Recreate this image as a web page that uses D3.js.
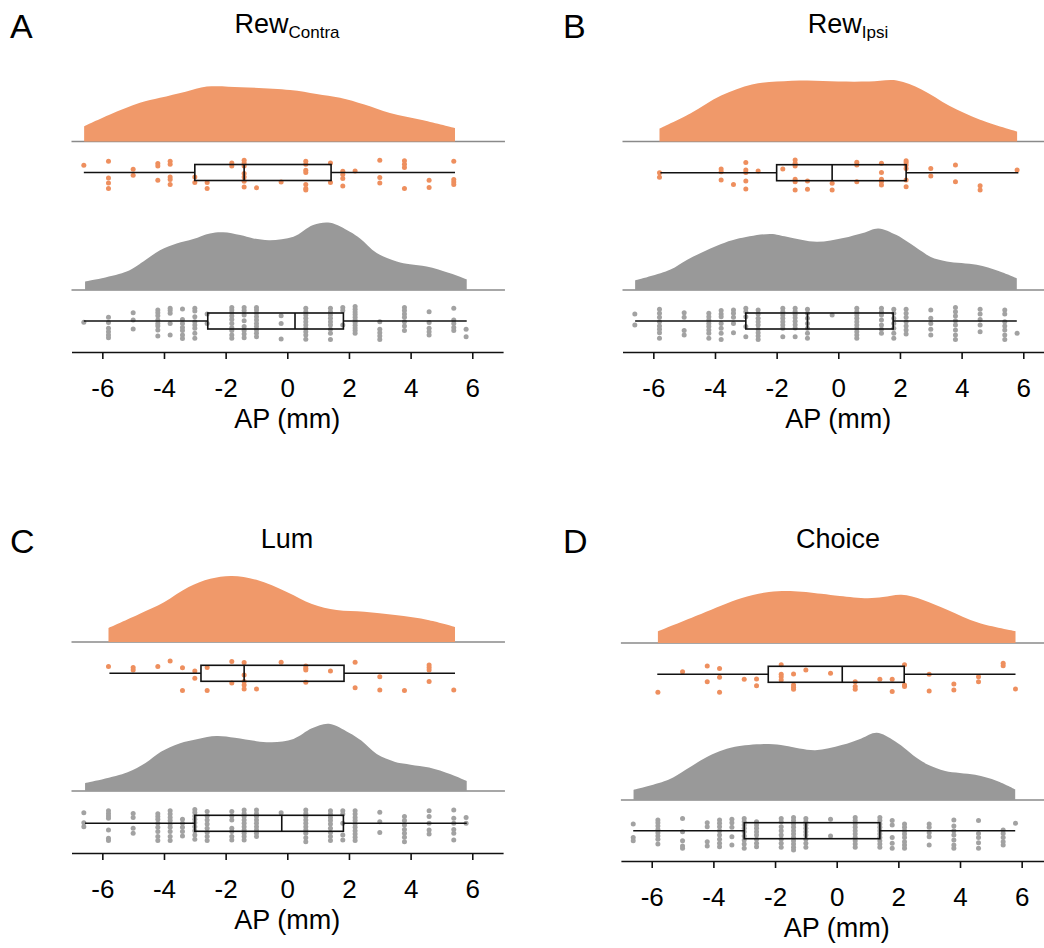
<!DOCTYPE html>
<html>
<head>
<meta charset="utf-8">
<script src="https://cdn.jsdelivr.net/npm/d3@7/dist/d3.min.js"></script>
<style>
  body { margin: 0; background: #fff; }
  text { font-family: Helvetica, "Liberation Sans", Arial, sans-serif; fill: #000; }
</style>
</head>
<body>
<svg id="chart" width="1044" height="948"></svg>
<script>
// tick values on AP axis
var apTicks = [-6, -4, -2, 0, 2, 4, 6];

// density curves [AP mm, density]
var contraDens = [[-6.59,0.027],[-5.75,0.048],[-4.78,0.069],[-4.13,0.078],[-3.3,0.089],[-2.61,0.098],[-1.5,0.097],[0.09,0.092],[0.95,0.085],[1.71,0.078],[2.5,0.066],[3.33,0.051],[4.41,0.038],[5.44,0.024]];
var contraAllDens = [[-6.56,0.015],[-5.21,0.033],[-4.67,0.051],[-4.13,0.071],[-3.59,0.083],[-3.05,0.091],[-2.51,0.101],[-2.08,0.103],[-1.53,0.098],[-1.1,0.092],[-0.56,0.089],[0.2,0.095],[0.84,0.116],[1.39,0.12],[2.03,0.104],[2.36,0.092],[2.9,0.066],[3.55,0.051],[3.98,0.046],[4.52,0.042],[5.28,0.03],[5.82,0.019]];
var ipsiDens = [[-5.8,0.023],[-4.8,0.05],[-3.8,0.082],[-2.8,0.102],[-2.0,0.107],[-1.0,0.109],[0,0.107],[1.0,0.107],[1.9,0.109],[2.7,0.093],[3.6,0.064],[4.6,0.039],[5.8,0.018]];
var ipsiAllDens = [[-6.59,0.017],[-5.46,0.036],[-4.9,0.054],[-4.27,0.071],[-3.8,0.082],[-3.3,0.091],[-2.2,0.1],[-1.67,0.095],[-0.7,0.086],[0.16,0.093],[0.8,0.102],[1.3,0.11],[1.89,0.098],[2.65,0.071],[3.0,0.059],[3.52,0.051],[4.49,0.045],[5.2,0.034],[5.79,0.021]];
var lumDens = [[-5.8,0.025],[-4.8,0.05],[-4.0,0.071],[-3.2,0.098],[-2.5,0.113],[-1.8,0.118],[-1.0,0.111],[0,0.089],[0.8,0.068],[1.6,0.057],[2.5,0.054],[3.5,0.048],[4.6,0.039],[5.44,0.027]];
var lumAllDens = [[-6.56,0.014],[-5.2,0.033],[-4.6,0.05],[-4.1,0.07],[-3.5,0.085],[-2.9,0.093],[-2.3,0.098],[-1.7,0.095],[-1.0,0.089],[-0.5,0.087],[0.2,0.093],[0.8,0.112],[1.35,0.12],[2.0,0.104],[2.4,0.09],[2.9,0.066],[3.5,0.052],[4.0,0.047],[4.6,0.042],[5.3,0.03],[5.82,0.018]];
var choiceDens = [[-5.8,0.021],[-4.4,0.052],[-3.1,0.08],[-2.2,0.091],[-1.5,0.093],[-0.5,0.088],[0.1,0.084],[1.0,0.08],[1.5,0.082],[2.1,0.086],[2.8,0.077],[3.6,0.059],[4.6,0.036],[5.8,0.021]];
var choiceAllDens = [[-6.59,0.018],[-5.46,0.036],[-4.9,0.054],[-4.27,0.075],[-3.8,0.087],[-3.3,0.095],[-2.2,0.1],[-1.67,0.097],[-0.7,0.089],[0.16,0.098],[0.8,0.11],[1.3,0.12],[1.89,0.105],[2.65,0.073],[3.0,0.062],[3.52,0.052],[4.49,0.045],[5.2,0.034],[5.79,0.019]];

// box stats [whisker lo, q1, median, q3, whisker hi] (mm)
var contraBox = [-6.6, -3.0, -1.4, 1.42, 5.44];
var contraAllBox = [-6.6, -2.58, 0.25, 1.82, 5.82];
var ipsiBox = [-5.77, -2.0, -0.2, 2.2, 5.84];
var ipsiAllBox = [-6.59, -3.0, -1.0, 1.78, 5.79];
var lumBox = [-5.77, -2.8, -1.4, 1.84, 5.44];
var lumAllBox = [-6.56, -3.0, -0.18, 1.82, 5.82];
var choiceBox = [-5.82, -2.22, 0.18, 2.19, 5.8];
var choiceAllBox = [-6.6, -3.0, -1.0, 1.4, 5.79];

// sites: [AP mm, [jitter values]]
var contraPts = [[-6.6,[-0.46]],[-5.8,[-0.71,0.34,0.65,1.0]],[-5.0,[-0.21,0.17]],[-4.2,[-0.56,-0.41,0.48]],[-3.8,[-0.71,-0.52,0.28,0.44,0.75]],[-3.0,[0.28,0.63]],[-2.6,[0.63,1.0]],[-1.8,[-0.6,-0.41]],[-1.4,[-0.77,-0.6,-0.41,0.06,0.28,0.54,0.9]],[-1.0,[0.96]],[-0.2,[0.59]],[0.6,[-0.71,-0.52,-0.14,0.0,0.75,1.0,1.1]],[1.4,[-0.6,0.63]],[1.8,[-0.08,0.13,0.38,0.84]],[2.2,[-0.1]],[3.0,[-0.77,0.31,0.65]],[3.8,[-0.73,-0.52,-0.31,1.0]],[4.6,[0.48,0.94]],[5.4,[-0.71,0.44,0.59,0.75]]];
var contraAllPts = [[-6.6,[0.08]],[-5.8,[-0.23,0.1,0.46,0.67,0.88,1.04]],[-5.0,[-0.52,-0.06,0.5]],[-4.2,[-0.69,-0.52,-0.33,-0.06,0.15,0.31,0.56,0.94]],[-3.8,[-0.79,-0.65,-0.48,0.15,0.88]],[-3.4,[-0.75,-0.1,0.15,0.4,0.6,0.88,1.1]],[-3.0,[-0.79,-0.63,-0.27,0.04,0.25,0.46,0.77,1.08]],[-2.6,[-0.44,0.15]],[-1.8,[-0.85,-0.69,-0.52,-0.31,-0.1,0.15,0.42,0.6,0.88,1.08]],[-1.4,[-0.85,-0.65,-0.38,-0.02,0.35,0.6,0.81,1.04]],[-1.0,[-0.85,-0.69,-0.48,-0.27,-0.06,0.15,0.35,0.56,0.77,0.98]],[-0.2,[-0.33,0.15,1.13]],[0.6,[-0.79,-0.58,-0.38,-0.17,0.04,0.25,0.46,0.67,0.88,1.14]],[1.4,[-0.79,-0.58,-0.38,-0.17,0.04,0.25,0.52,0.77,1.15]],[1.8,[-0.85,-0.65,0.25]],[2.2,[-0.9,-0.73,-0.56,-0.4,-0.23,-0.06,0.1,0.27,0.44,0.6,0.77]],[3.0,[0.04,0.52,0.73,0.94,1.15]],[3.8,[-0.85,-0.65,-0.44,-0.23,0.04,0.31,0.6]],[4.6,[-0.58,0.1,0.46,0.67,0.88]],[5.4,[-0.79,-0.06,0.15,0.4,0.6]],[5.8,[0.52,0.98]]];
var ipsiPts = [[-5.8,[0.0,0.29]],[-3.8,[-0.23,-0.06,0.46]],[-3.4,[0.73]],[-3.0,[-0.63,-0.17,-0.02,0.52,1.02]],[-2.6,[-0.1]],[-1.8,[-0.23]],[-1.4,[-0.79,-0.59,-0.42,0.41,0.56,1.08]],[-1.0,[0.52,1.04]],[-0.2,[0.66,1.08]],[0.6,[-0.65,-0.48,0.56]],[1.4,[-0.59,-0.02,0.41,0.56,0.77]],[2.2,[-0.75,-0.63,-0.48,-0.27,0.46,0.88]],[3.0,[-0.27,0.21]],[3.8,[-0.48,0.56]],[4.6,[0.81,1.08]],[5.8,[-0.17]]];
var ipsiAllPts = [[-6.6,[-0.44,0.25]],[-5.8,[-0.73,-0.48,-0.23,0.04,0.31,0.52,0.73,1.08]],[-5.0,[-0.52,-0.23,0.6,0.88]],[-4.2,[-0.48,-0.27,-0.06,0.15,0.35,0.56,0.77,1.08]],[-3.8,[-0.65,-0.44,-0.27,0.15,0.46,0.77,1.15]],[-3.4,[-0.69,-0.48,-0.23,0.15,0.73]],[-3.0,[-0.79,-0.58,-0.27,0.35,0.98]],[-2.6,[-0.69,-0.44,-0.17,0.04,0.25,0.52,0.73,0.94,1.15]],[-1.8,[-0.79,-0.58,-0.38,-0.17,0.04,0.25,0.46,0.98]],[-1.4,[-0.79,-0.6,-0.4,-0.2,0.02,0.23,0.44,0.98]],[-1.0,[-0.73,-0.48,-0.17,0.15,0.46,0.77,1.08]],[-0.2,[-0.38]],[0.6,[-0.79,-0.58,-0.38,-0.17,0.04,0.25,0.46,0.67,0.88,1.08]],[1.4,[-0.79,-0.58,-0.38,-0.06,0.25,0.52,0.77]],[1.8,[-0.73,-0.48,-0.17,0.15,0.46,0.77,1.08]],[2.2,[-0.73,-0.48,-0.23,0.04,0.31,0.56,0.81]],[3.0,[-0.69,-0.17,0.15,0.52,0.88]],[3.8,[-0.85,-0.58,-0.31,-0.02,0.25,0.56,0.88,1.15]],[4.6,[-0.73,-0.44,-0.1,0.25,0.67]],[5.4,[-0.69,-0.44,0.04,0.31,0.56,0.88,1.15]],[5.8,[0.77]]];
var lumPts = [[-5.8,[-0.42]],[-5.0,[-0.37,-0.21]],[-4.2,[-0.42]],[-3.8,[-0.77]],[-3.4,[-0.35,1.08]],[-3.0,[-0.15,0.31]],[-2.6,[-0.37,1.08]],[-1.8,[-0.73,0.6]],[-1.4,[-0.67,0.1,0.52,0.73,0.98]],[-1.0,[0.98]],[-0.2,[-0.69]],[0.6,[-0.46,-0.31,-0.21,0.56]],[1.4,[-0.15]],[2.2,[-0.69,0.9]],[3.0,[0.21,1.04]],[3.8,[1.08]],[4.6,[-0.52,-0.37,-0.21,0.52]],[5.4,[1.04]]];
var lumAllPts = [[-6.6,[-0.66,-0.04,0.21]],[-5.8,[-0.79,-0.62,-0.46,-0.31,0.42,0.94,1.08]],[-5.0,[-0.62,-0.37,0.31,0.62]],[-4.2,[-0.6,-0.42,-0.25,0,0.25,0.52,0.83,1.08]],[-3.8,[-0.79,-0.58,-0.37,-0.17,0.04,0.25,0.52,0.83,1.08]],[-3.4,[-0.25,0,0.25,0.52,0.79]],[-3.0,[-0.87,-0.67,-0.46,-0.25,-0.04,0.21,0.46,0.73,1.0]],[-2.6,[-0.73,-0.46,-0.21,0.04,0.31,0.58,0.83,1.08]],[-1.8,[-0.73,-0.46,-0.21,0.31,0.52,0.83,1.04]],[-1.4,[-0.83,-0.62,-0.42,-0.21,0,0.21,0.42,0.62,0.83,1.04]],[-1.0,[-0.83,-0.62,-0.42,-0.21,0,0.21,0.42,0.62,0.83]],[-0.2,[-0.66]],[0.6,[-0.83,-0.62,-0.42,-0.21,0,0.21,0.42,0.62,0.9,1.15]],[1.4,[-0.79,-0.58,-0.37,-0.17,0.04,0.31,0.58,0.83,1.08]],[1.8,[-0.79,-0.58,0,0.73,1.04]],[2.2,[-0.79,-0.58,-0.37,-0.17,0.04,0.25,0.46,0.67,0.87,1.08]],[3.0,[-0.69,-0.1,0.58]],[3.8,[-0.42,-0.17,0.1,0.38,0.62,0.87,1.15]],[4.6,[-0.79,-0.42,0,0.42,0.67]],[5.4,[-0.83,-0.31,0,0.38,0.62,1.04]],[5.8,[-0.37,0]]];
var choicePts = [[-5.8,[1.12]],[-5.0,[-0.16]],[-4.2,[-0.52,0.46]],[-3.8,[-0.37,0.19,1.12]],[-3.0,[0.31]],[-2.6,[0.29,0.71]],[-1.8,[-0.6,0,0.15,0.35]],[-1.4,[-0.02,0.67,0.81,0.94]],[-1.0,[-0.27]],[-0.2,[-0.06]],[0.6,[0.46,0.77,0.94]],[1.4,[0.31]],[1.8,[0.31,1.08]],[2.2,[-0.6,0.67,0.77]],[3.0,[0,1.04]],[3.8,[0.6,0.98]],[4.6,[0.15,0.46]],[5.4,[-0.69,-0.54]],[5.8,[0.92]]];
var choiceAllPts = [[-6.6,[-0.42,0.42,0.63]],[-5.8,[-0.67,-0.5,-0.29,-0.08,0.13,0.33,0.54,0.83]],[-5.0,[-0.77,0.06,0.63,0.96,1.1]],[-4.2,[-0.5,-0.25,0.69,0.96]],[-3.8,[-0.67,-0.46,-0.25,0,0.27,0.54,0.79,1.0]],[-3.4,[-0.71,-0.5,-0.21,0.38,0.9]],[-3.0,[-0.77,-0.56,-0.36,-0.15,0.06,0.33,0.58,0.83,1.1]],[-2.6,[-0.56,-0.36,-0.15,0.06,0.27,0.54,0.79,1.0]],[-1.8,[-0.77,-0.56,-0.25,0,0.27,0.54,0.79,1.04]],[-1.4,[-0.83,-0.63,-0.42,-0.21,0,0.21,0.42,0.63,0.83,1.04,1.2]],[-1.0,[-0.77,-0.56,-0.36,-0.15,0.06,0.27,0.54,0.79,1.04]],[-0.2,[-0.71,0.33]],[0.6,[-0.83,-0.63,-0.42,-0.21,0,0.21,0.42,0.63,0.83,1.04]],[1.4,[-0.83,-0.63,-0.42,-0.21,0,0.21,0.42,0.63,0.83,1.04]],[1.8,[-0.63,-0.36,0.42,0.79,1.1]],[2.2,[-0.42,-0.21,0,0.21,0.42,0.69,0.9,1.1]],[3.0,[-0.42,-0.21,0.13,0.38,0.9]],[3.8,[-0.67,-0.29,0,0.27,0.58,0.9,1.1]],[4.6,[-0.63,0.17,0.42,0.75,1.1]],[5.4,[-0.04,0.17,0.42,0.69,0.9]],[5.8,[-0.46]]];

var orange = '#f0996a', orangeDot = '#ee8f5e', grey = '#999999', greyDot = '#a2a2a2';

var panels = [
  {letter:'A', title:'Rew', sub:'Contra', x0:287.3, titleX:287, titleY:33, oBase:141.5, oBox:172.5, gBase:290, gBox:321, axisY:352,
   od:contraDens, ob:contraBox, op:contraPts, gd:contraAllDens, gb:contraAllBox, gp:contraAllPts},
  {letter:'B', title:'Rew', sub:'Ipsi', x0:838.3, titleX:848, titleY:33, oBase:141.5, oBox:172.7, gBase:290, gBox:321, axisY:352,
   od:ipsiDens, ob:ipsiBox, op:ipsiPts, gd:ipsiAllDens, gb:ipsiAllBox, gp:ipsiAllPts},
  {letter:'C', title:'Lum', sub:'', x0:287.3, titleX:287, titleY:548, oBase:642, oBox:673.3, gBase:791, gBox:823.3, axisY:853,
   od:lumDens, ob:lumBox, op:lumPts, gd:lumAllDens, gb:lumAllBox, gp:lumAllPts},
  {letter:'D', title:'Choice', sub:'', x0:836.7, titleX:838, titleY:548, oBase:643, oBox:674.3, gBase:800, gBox:830.7, axisY:861,
   od:choiceDens, ob:choiceBox, op:choicePts, gd:choiceAllDens, gb:choiceAllBox, gp:choiceAllPts}
];

var svg = d3.select('#chart');
var hScale = d3.scaleLinear().domain([0, 0.125]).range([0, 70]);
var jScale = d3.scaleLinear().domain([-1, 1]).range([-16, 16]);

function cloud(g, x, dens, box, pts, base, cy, fill, dot) {
  // baseline
  g.append('line').attr('x1', x(-7)).attr('x2', x(7.06)).attr('y1', base).attr('y2', base)
    .attr('stroke', '#8a8a8a').attr('stroke-width', 1.5);
  var area = d3.area().x(function(d){ return x(d[0]); })
    .y0(base).y1(function(d){ return base - hScale(d[1]); })
    .curve(d3.curveCatmullRom.alpha(0.5));
  g.append('path').datum(dens).attr('d', area).attr('fill', fill);

  var flat = [];
  pts.forEach(function(c){ c[1].forEach(function(j){ flat.push([c[0], j]); }); });
  g.append('g').selectAll(null).data(flat).enter().append('circle')
    .attr('cx', function(d){ return x(d[0]); })
    .attr('cy', function(d){ return cy + jScale(d[1]); })
    .attr('r', 2.5).attr('fill', dot);

  // box + whiskers
  g.append('line').attr('x1', x(box[0])).attr('x2', x(box[1])).attr('y1', cy).attr('y2', cy)
    .attr('stroke', '#111').attr('stroke-width', 1.6);
  g.append('line').attr('x1', x(box[3])).attr('x2', x(box[4])).attr('y1', cy).attr('y2', cy)
    .attr('stroke', '#111').attr('stroke-width', 1.6);
  g.append('rect').attr('x', x(box[1])).attr('y', cy - 8).attr('width', x(box[3]) - x(box[1])).attr('height', 16)
    .attr('fill', 'none').attr('stroke', '#111').attr('stroke-width', 1.6);
  g.append('line').attr('x1', x(box[2])).attr('x2', x(box[2])).attr('y1', cy - 8).attr('y2', cy + 8)
    .attr('stroke', '#111').attr('stroke-width', 1.6);
}

panels.forEach(function(p){
  var g = svg.append('g');
  var x = d3.scaleLinear().domain([-7, 7]).range([p.x0 - 215.8, p.x0 + 215.8]);

  g.append('text').attr('x', p.letter === 'A' || p.letter === 'C' ? 10 : 563).attr('y', p.titleY + 5)
    .attr('font-size', 34).text(p.letter);
  var t = g.append('text').attr('x', p.titleX).attr('y', p.titleY)
    .attr('text-anchor', 'middle').attr('font-size', 27);
  t.append('tspan').text(p.title);
  if (p.sub) t.append('tspan').attr('font-size', 17).attr('dy', 5).text(p.sub);

  cloud(g, x, p.od, p.ob, p.op, p.oBase, p.oBox, orange, orangeDot);
  cloud(g, x, p.gd, p.gb, p.gp, p.gBase, p.gBox, grey, greyDot);

  var ax = g.append('g').attr('transform', 'translate(0,' + p.axisY + ')')
    .call(d3.axisBottom(x).tickValues(apTicks).tickSize(7).tickSizeOuter(0).tickFormat(function(d){ return String(d); }));
  ax.select('.domain').attr('stroke', '#111').attr('stroke-width', 1.6);
  ax.selectAll('.tick line').attr('stroke', '#111').attr('stroke-width', 1.6);
  ax.selectAll('.tick text').attr('font-size', 26).attr('font-family', 'Helvetica, "Liberation Sans", Arial, sans-serif')
    .attr('fill', '#000').attr('dy', null).attr('y', 45);
  g.append('text').attr('x', p.x0).attr('y', p.axisY + 76).attr('text-anchor', 'middle')
    .attr('font-size', 27).text('AP (mm)');
});
</script>
</body>
</html>
